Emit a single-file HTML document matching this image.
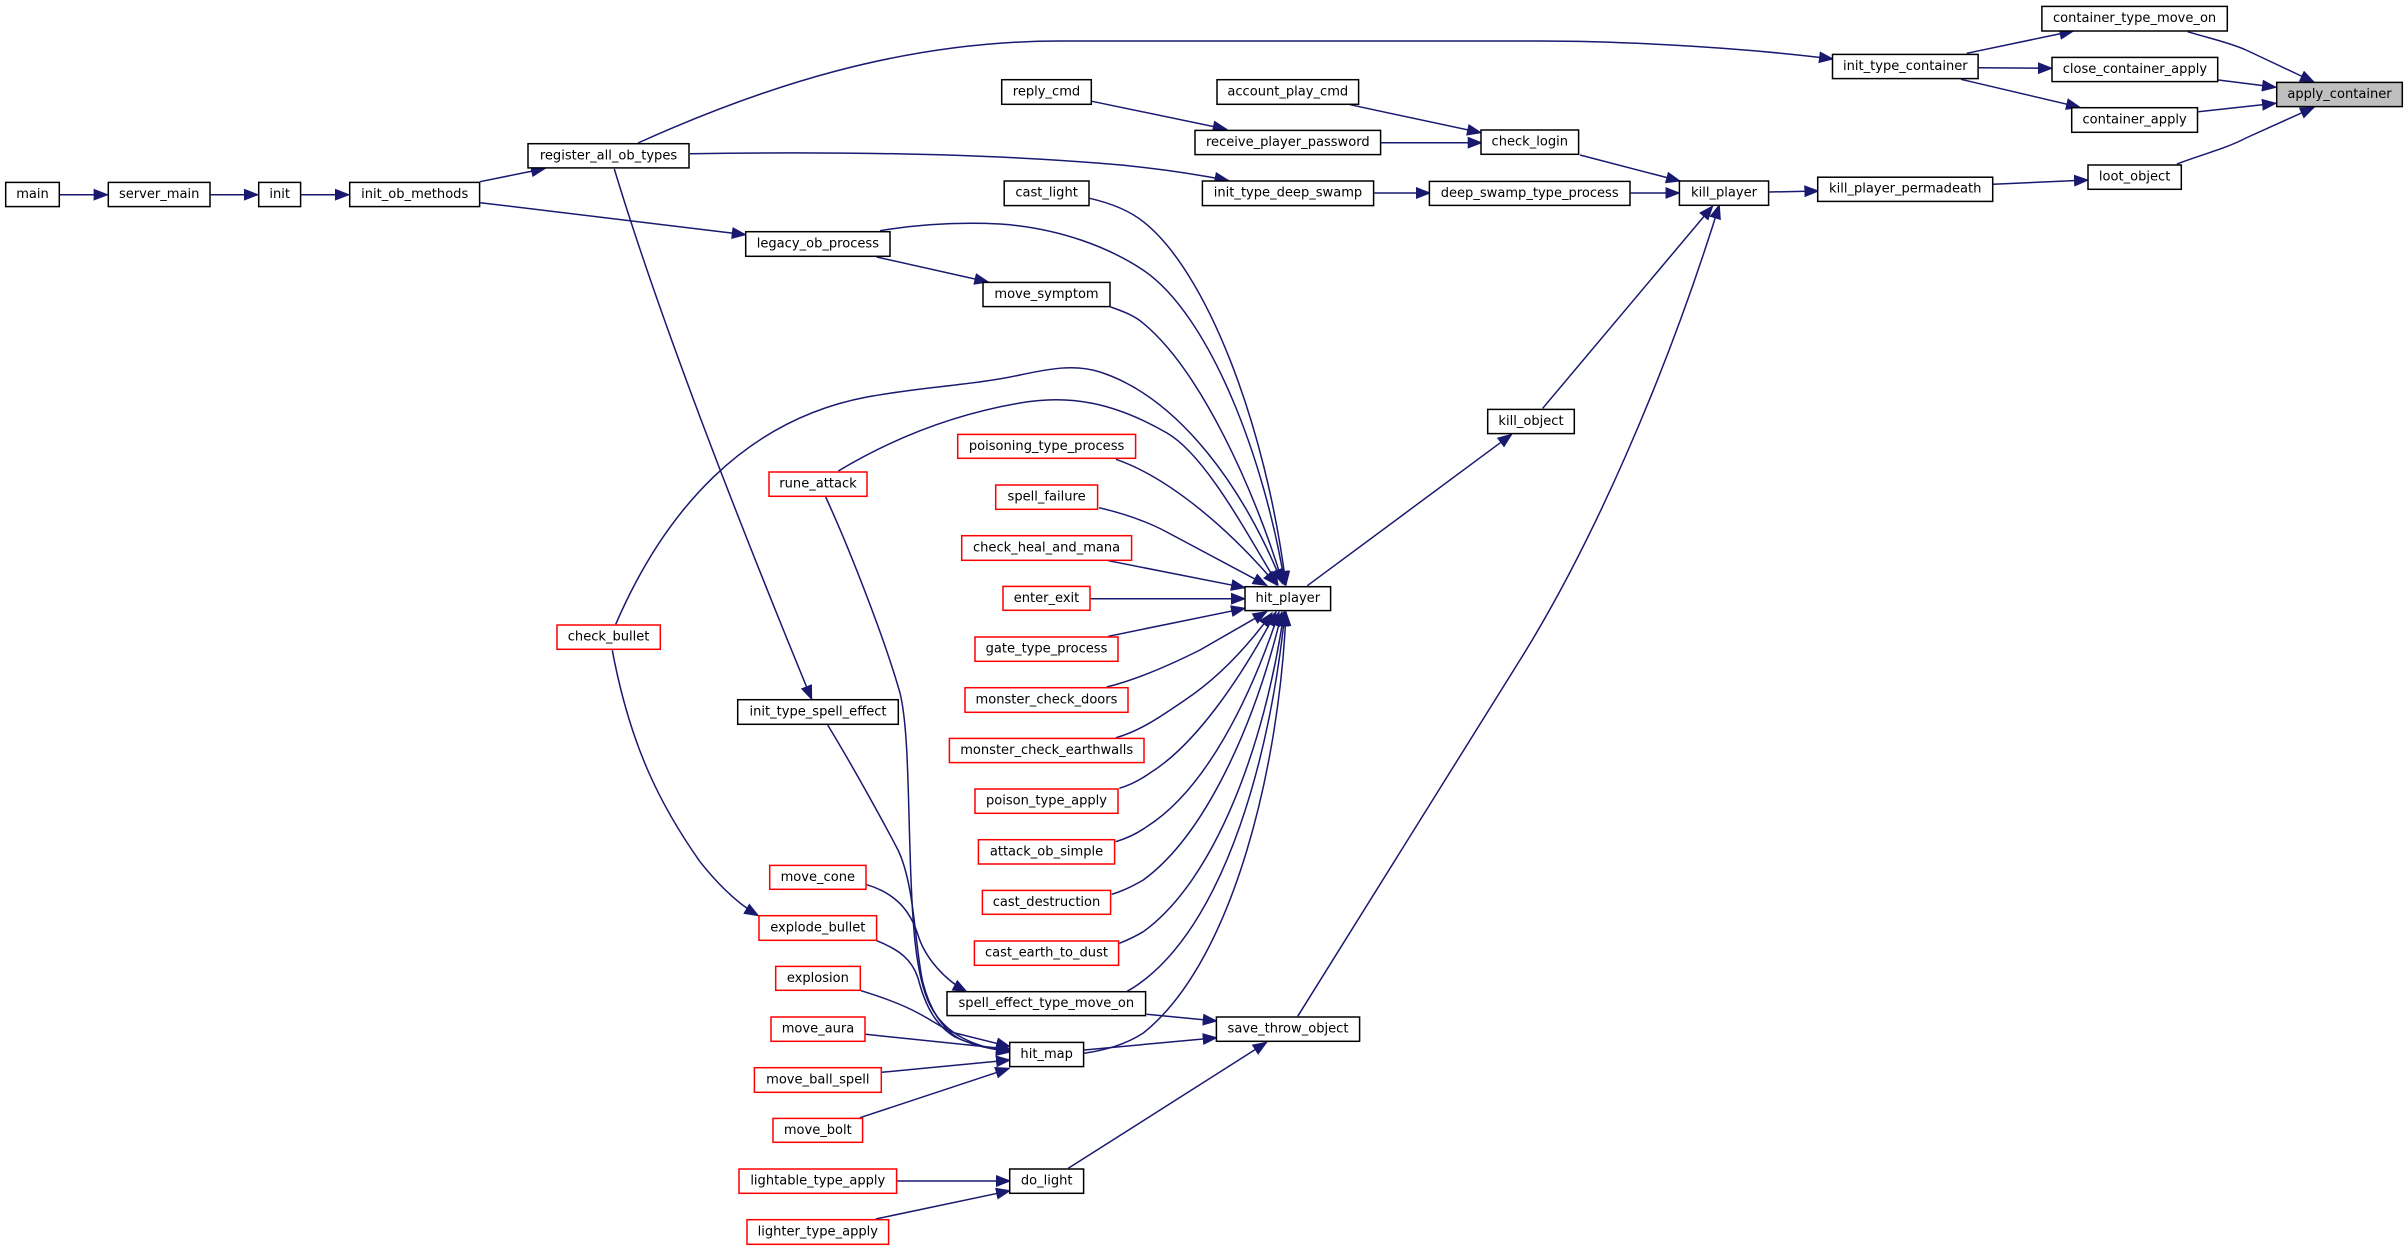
<!DOCTYPE html>
<html><head><meta charset="utf-8"><title>apply_container caller graph</title>
<style>
html,body{margin:0;padding:0;background:#fff}
svg{display:block}
.n rect{fill:#fff;stroke:#000;stroke-width:1.5}
.n rect.r{stroke:#f00}
.n rect.g{fill:#bfbfbf}
.n text{font-family:"DejaVu Sans",sans-serif;font-size:13.05px;fill:#000;text-anchor:middle;transform:translateY(-0.9px)}
.e path{fill:none;stroke:#191970;stroke-width:1.5;marker-end:url(#a)}
</style></head><body>
<svg xmlns="http://www.w3.org/2000/svg" width="2408" height="1251" viewBox="0 0 2408 1251">
<defs><marker id="a" markerUnits="userSpaceOnUse" markerWidth="16" markerHeight="13" refX="14" refY="6.25" orient="auto"><polygon points="0.5,1 14,6.25 0.5,11.5" fill="#191970" stroke="#191970" stroke-width="1"/></marker></defs>
<g class="e">
<path d="M60,194.7L107.6,194.7"/>
<path d="M210.7,194.7L258,194.7"/>
<path d="M301.3,194.7L349,194.7"/>
<path d="M480,181.7L545,168.5"/>
<path d="M480.3,202.7L745.7,234.7"/>
<path d="M638,143C760,88 900,41 1060,41L1540,41C1600,41 1720,45 1833,59"/>
<path d="M690,153.7C800,152 960,152 1100,163.3C1150,167 1195,174 1228.5,180.5"/>
<path d="M614.3,169C660,320 740,525 811.7,699.3"/>
<path d="M1966.7,53.3L2073.4,31"/>
<path d="M1978.8,67.7L2052,68.3"/>
<path d="M1961,79.3L2080,107.3"/>
<path d="M2187.7,31.7C2208,38 2228,42 2246,50L2314,82"/>
<path d="M2218.4,80L2276,87.3"/>
<path d="M2198.2,111.7L2276,103.3"/>
<path d="M2177,164C2200,155 2225,149 2246,138L2314,107.3"/>
<path d="M1993,184.3L2088,180"/>
<path d="M1769.3,192L1818.3,191"/>
<path d="M1580,155L1680,181"/>
<path d="M1630.7,193L1679.3,193"/>
<path d="M1350,104.7L1481,132.7"/>
<path d="M1381.3,142.7L1481.7,142.7"/>
<path d="M1092,101.3L1226.7,129.3"/>
<path d="M1374.3,193L1430,193"/>
<path d="M1542.7,408.3L1712.7,206"/>
<path d="M1297.7,1016.3L1520,660C1590,548 1665,380 1719.3,205"/>
<path d="M1307.3,585.7L1511.7,434.3"/>
<path d="M1068.3,1168.3L1266.7,1042.3"/>
<path d="M1084.3,1050L1216.7,1037.7"/>
<path d="M1146.7,1014.3L1216.7,1021"/>
<path d="M897.3,1181L1010,1181"/>
<path d="M875.7,1219L1010,1190.7"/>
<path d="M860,1117.7L1009.3,1068.3"/>
<path d="M882,1072.3L1010,1060"/>
<path d="M865.7,1034.3L1010,1049.3"/>
<path d="M861,990.7C885,998 905,1006 918,1013C935,1022 945,1030 955,1033L1010,1046.7"/>
<path d="M876.7,940.7C900,950 912,960 918,978C925,1005 935,1025 955,1037C972,1045 990,1049 1010,1051.7"/>
<path d="M825.7,497C850,550 885,640 900,693C908,725 908,790 910,850C912,920 915,975 930,1005C945,1035 975,1047 1010,1052"/>
<path d="M827.7,725C855,770 885,825 898,850C915,885 915,950 923,983C930,1010 943,1030 960,1039C975,1046 990,1049 1010,1051"/>
<path d="M612.3,650.3C630,745 660,805 700,861.7C720,887 740,905 758.3,915.7"/>
<path d="M866.7,884.7C895,893 910,910 918,935C925,958 945,980 966.7,991.7"/>
<path d="M876.7,257L988.3,282"/>
<path d="M1108.3,560.7L1245,587.7"/>
<path d="M1090.7,598.7L1245,598.7"/>
<path d="M1108.3,636.3L1245,608.3"/>
<path d="M1099,507.7C1130,515 1150,523 1166.7,532L1266.7,585.3"/>
<path d="M1116,459.3C1170,478 1230,530 1276.7,585"/>
<path d="M838.3,471C890,440 950,415 1020,403C1070,394 1115,403 1167,433C1205,455 1245,530 1278,585"/>
<path d="M615.7,624.3C665,510 745,420 867,397C920,387 975,385 1020,375C1050,368.5 1075,364 1100,372C1180,398 1245,490 1282,583"/>
<path d="M1110.7,307C1125,312 1135,316 1143.3,323.3C1200,370 1255,490 1283,584"/>
<path d="M880,230.7C920,224 960,222 1000,224C1060,228 1110,248 1143,270C1210,315 1265,460 1285,585"/>
<path d="M1089.7,198.3C1110,203 1130,211 1143.3,221.7C1205,270 1265,420 1286,585"/>
<path d="M1106.7,687C1135,680 1170,665 1200,650L1266.7,611.7"/>
<path d="M1116,737.7C1140,731 1160,717 1185,700C1215,680 1245,650 1272,613"/>
<path d="M1119.3,788.3C1130,785 1140,780 1150,773C1195,745 1240,680 1276,612"/>
<path d="M1115.7,841.7C1128,838 1138,833 1146.7,826.7C1205,790 1250,700 1279,612"/>
<path d="M1111.7,894.3C1123,891 1133,886 1143.3,880C1205,835 1255,725 1282,612"/>
<path d="M1119.3,943.3C1128,940 1136,936 1143.3,931.7C1215,880 1265,745 1284,612"/>
<path d="M1127.3,991C1134,988 1140,983 1146.7,978C1225,915 1270,760 1285,612"/>
<path d="M1084.3,1053.3C1105,1050 1125,1045 1143.3,1033C1235,960 1280,760 1286,612"/>
</g>
<g class="n">
<rect x="5.7" y="182.4" width="53.6" height="24.2"/><text x="32.5" y="199">main</text>
<rect x="108.3" y="182.4" width="101.7" height="24.2"/><text x="159.2" y="199">server_main</text>
<rect x="258.7" y="182.4" width="41.9" height="24.2"/><text x="279.7" y="199">init</text>
<rect x="349.7" y="182.4" width="129.9" height="24.2"/><text x="414.7" y="199">init_ob_methods</text>
<rect x="528" y="143.7" width="161" height="24.2"/><text x="608.5" y="160.3">register_all_ob_types</text>
<rect x="745.7" y="231.7" width="144.3" height="24.6"/><text x="817.9" y="248.3">legacy_ob_process</text>
<rect x="983" y="282.4" width="127" height="24.2"/><text x="1046.5" y="299">move_symptom</text>
<rect x="1001.7" y="79.7" width="89.6" height="24.6"/><text x="1046.5" y="96.3">reply_cmd</text>
<rect x="1217" y="79.7" width="141.6" height="24.6"/><text x="1287.8" y="96.3">account_play_cmd</text>
<rect x="1195" y="130.4" width="185.6" height="24.2"/><text x="1287.8" y="147">receive_player_password</text>
<rect x="1481" y="130" width="97.6" height="24.3"/><text x="1529.8" y="146.6">check_login</text>
<rect x="1004.2" y="181" width="84.8" height="24.6"/><text x="1046.6" y="197.6" >cast_light</text>
<rect x="1202.4" y="181" width="171.2" height="24.6"/><text x="1288" y="197.6">init_type_deep_swamp</text>
<rect x="1429.4" y="181.4" width="200.6" height="24"/><text x="1529.7" y="197.8">deep_swamp_type_process</text>
<rect x="1679.4" y="181" width="89.2" height="24.3"/><text x="1724" y="197.4">kill_player</text>
<rect x="1817.7" y="177.2" width="175" height="24.2"/><text x="1905.2" y="193.6">kill_player_permadeath</text>
<rect x="1487.7" y="409.4" width="86.6" height="24.2"/><text x="1531" y="426">kill_object</text>
<rect x="1216.4" y="1017" width="143.2" height="24.3"/><text x="1288" y="1033.6">save_throw_object</text>
<rect x="1245" y="586.7" width="85.6" height="23.9"/><text x="1287.8" y="603">hit_player</text>
<rect x="1832.5" y="54.4" width="145.6" height="24.2"/><text x="1905.3" y="71">init_type_container</text>
<rect x="2041.9" y="6.4" width="185.4" height="24.6"/><text x="2134.6" y="23">container_type_move_on</text>
<rect x="2052" y="57.4" width="165.7" height="24.2"/><text x="2134.9" y="74">close_container_apply</text>
<rect x="2071.7" y="107.7" width="125.8" height="24.6"/><text x="2134.6" y="124.3">container_apply</text>
<rect x="2088" y="165" width="93.3" height="24.3"/><text x="2134.6" y="181.6">loot_object</text>
<rect class="g" x="2276.7" y="82.4" width="125.6" height="24.2"/><text x="2339.5" y="99">apply_container</text>
<rect class="r" x="957.7" y="434.4" width="177.9" height="23.9"/><text x="1046.6" y="450.8">poisoning_type_process</text>
<rect class="r" x="995.7" y="485" width="101.9" height="24.3"/><text x="1046.6" y="501.6">spell_failure</text>
<rect class="r" x="961.7" y="535.7" width="169.9" height="24.6"/><text x="1046.6" y="552.3">check_heal_and_mana</text>
<rect class="r" x="1003" y="586.4" width="87" height="23.9"/><text x="1046.5" y="602.8">enter_exit</text>
<rect class="r" x="975" y="637" width="143" height="24.3"/><text x="1046.5" y="653.6">gate_type_process</text>
<rect class="r" x="965" y="687.7" width="163" height="24.6"/><text x="1046.5" y="704.3">monster_check_doors</text>
<rect class="r" x="949.4" y="738.4" width="194.6" height="24.2"/><text x="1046.7" y="755">monster_check_earthwalls</text>
<rect class="r" x="975" y="789" width="143" height="24.3"/><text x="1046.5" y="805.6">poison_type_apply</text>
<rect class="r" x="978.4" y="839.7" width="136.2" height="24.3"/><text x="1046.5" y="856.3">attack_ob_simple</text>
<rect class="r" x="982.4" y="890.4" width="128.2" height="23.9"/><text x="1046.5" y="906.8">cast_destruction</text>
<rect class="r" x="974.4" y="941" width="144.2" height="24.3"/><text x="1046.5" y="957.6">cast_earth_to_dust</text>
<rect x="947" y="991.7" width="198.6" height="23.9"/><text x="1046.3" y="1008">spell_effect_type_move_on</text>
<rect x="1009.7" y="1042.4" width="73.9" height="24.2"/><text x="1046.7" y="1059">hit_map</text>
<rect x="1009.7" y="1169" width="73.9" height="24.3"/><text x="1046.7" y="1185.6">do_light</text>
<rect class="r" x="769" y="472" width="98" height="24.3"/><text x="818" y="488.3">rune_attack</text>
<rect class="r" x="557" y="625" width="103.3" height="24.3"/><text x="608.6" y="641.4">check_bullet</text>
<rect x="737.7" y="699.7" width="160.6" height="24.6"/><text x="818" y="716.3">init_type_spell_effect</text>
<rect class="r" x="769.7" y="865.4" width="96.3" height="23.9"/><text x="817.8" y="881.8">move_cone</text>
<rect class="r" x="759" y="915.7" width="117.6" height="24.6"/><text x="817.8" y="932.3">explode_bullet</text>
<rect class="r" x="775.7" y="966.4" width="84.6" height="23.9"/><text x="817.9" y="982.8">explosion</text>
<rect class="r" x="771" y="1017" width="94" height="24.3"/><text x="818" y="1033.6">move_aura</text>
<rect class="r" x="754.4" y="1067.7" width="126.9" height="24.6"/><text x="817.8" y="1084.3">move_ball_spell</text>
<rect class="r" x="773" y="1118.4" width="89.6" height="23.9"/><text x="817.8" y="1134.8">move_bolt</text>
<rect class="r" x="739" y="1169" width="157.6" height="24.3"/><text x="817.8" y="1185.6">lightable_type_apply</text>
<rect class="r" x="747" y="1219.7" width="141.6" height="24.6"/><text x="817.8" y="1236.3">lighter_type_apply</text>
</g>
</svg>
</body></html>
